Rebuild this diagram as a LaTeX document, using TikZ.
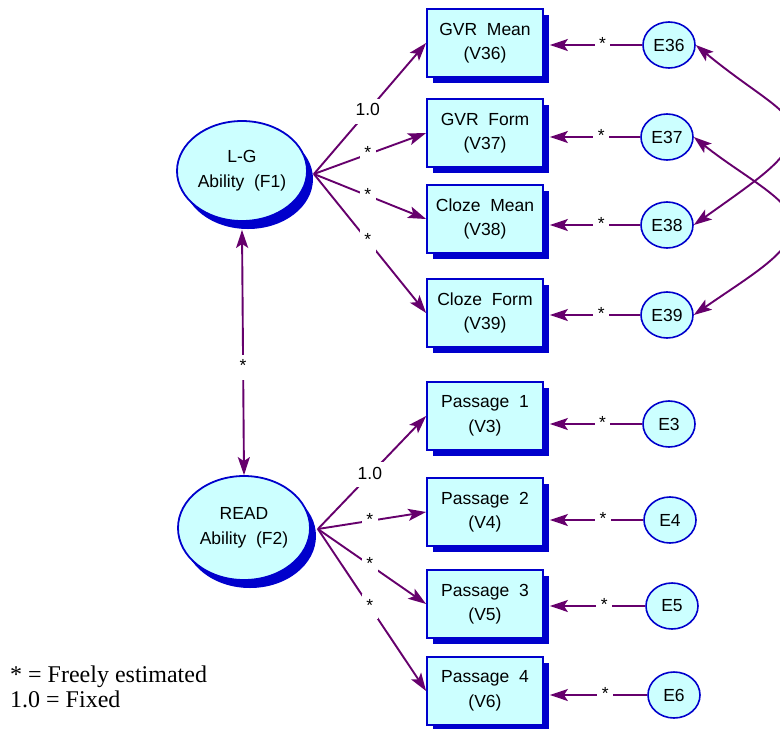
\documentclass[tikz,border=0pt]{standalone}
\usepackage{fontspec}
\setmainfont{Liberation Serif}
\setsansfont{Liberation Sans}
\usetikzlibrary{arrows.meta,shapes.geometric,shadows}
\definecolor{pathpurple}{RGB}{102,0,108}
\definecolor{boxfill}{RGB}{204,255,255}
\definecolor{edgeblue}{RGB}{0,0,204}

\tikzset{
  tip/.tip={Stealth[length=18pt, width=12pt, inset=4pt]},
  measured/.style={draw=edgeblue, fill=boxfill, line width=1.8pt,
    rectangle, minimum width=116pt, minimum height=68pt, inner sep=0pt,
    align=center, font=\sffamily\fontsize{17.5}{24.5}\selectfont,
    general shadow={shadow xshift=6pt, shadow yshift=-6pt, fill=edgeblue, draw=none}},
  factor/.style={draw=edgeblue, fill=boxfill, line width=1.8pt,
    ellipse, inner sep=0pt, align=center,
    font=\sffamily\fontsize{17.5}{25}\selectfont,
    general shadow={shadow xshift=6pt, shadow yshift=-8pt, fill=edgeblue, draw=none}},
  errterm/.style={draw=edgeblue, fill=boxfill, line width=1.6pt,
    ellipse, minimum width=52pt, minimum height=46pt, inner sep=0pt,
    font=\sffamily\fontsize{17.5}{21}\selectfont},
  path/.style={draw=pathpurple, line width=1.9pt, -tip},
  twoway/.style={draw=pathpurple, line width=1.9pt, tip-tip},
  est/.style={fill=white, inner xsep=4.5pt, inner ysep=4pt,
    text height=13pt, text depth=4pt,
    font=\sffamily\fontsize{17.5}{21}\selectfont},
  legend/.style={anchor=base west, inner sep=0pt,
    font=\rmfamily\fontsize{24}{25}\selectfont}
}

\begin{document}
\begin{tikzpicture}[x=1pt, y=-1pt]
\useasboundingbox (0,0) rectangle (780,729);
\clip (0,0) rectangle (780,729);

% latent factors
\node[factor, minimum width=130pt, minimum height=100pt] (F1) at (242,171) {L-G\\Ability\ \ (F1)};
\node[factor, minimum width=132pt, minimum height=104pt] (F2) at (244,528) {READ\\Ability\ \ (F2)};

% measured variables
\node[measured] (V36) at (485,43)  {GVR\ \ Mean\\(V36)};
\node[measured] (V37) at (485,133) {GVR\ \ Form\\(V37)};
\node[measured] (V38) at (485,219) {Cloze\ \ Mean\\(V38)};
\node[measured] (V39) at (485,313) {Cloze\ \ Form\\(V39)};
\node[measured] (V3)  at (485,416) {Passage\ \ 1\\(V3)};
\node[measured] (V4)  at (485,512) {Passage\ \ 2\\(V4)};
\node[measured] (V5)  at (485,604) {Passage\ \ 3\\(V5)};
\node[measured] (V6)  at (485,691) {Passage\ \ 4\\(V6)};

% error terms
\node[errterm] (E36) at (669,45)  {E36};
\node[errterm] (E37) at (667,137) {E37};
\node[errterm] (E38) at (667,225) {E38};
\node[errterm] (E39) at (667,315) {E39};
\node[errterm] (E3)  at (669,424) {E3};
\node[errterm] (E4)  at (670,520) {E4};
\node[errterm] (E5)  at (672,606) {E5};
\node[errterm] (E6)  at (674,695) {E6};

% where the loadings leave the factors
\coordinate (F1out) at ([xshift=6pt, yshift=-3pt]F1.east);
\coordinate (F2out) at ([xshift=7pt, yshift=-1pt]F2.east);

% factor loadings
\draw[path] (F1out) -- node[est, pos=0.48] {1.0} (V36.west);
\draw[path] (F1out) -- node[est, pos=0.48] {*} (V37.west);
\draw[path] (F1out) -- node[est, pos=0.48] {*} (V38.west);
\draw[path] (F1out) -- node[est, pos=0.48] {*} (V39.west);
\draw[path] (F2out) -- node[est, pos=0.48] {1.0} (V3.west);
\draw[path] (F2out) -- node[est, pos=0.48] {*} (V4.west);
\draw[path] (F2out) -- node[est, pos=0.48] {*} (V5.west);
\draw[path] (F2out) -- node[est, pos=0.48] {*} (V6.west);

% factor covariance
\draw[twoway] ([yshift=-8pt]F1.south) -- node[est, pos=0.56] {*} (F2.north);

% error paths
\foreach \v/\e in {V36/E36, V37/E37, V38/E38, V39/E39, V3/E3, V4/E4, V5/E5, V6/E6}
  \draw[path] (\e.west) -- node[est, pos=0.43] {*} ([xshift=6pt]\v.east |- \e.west);

% correlated errors
\draw[twoway] (E36.east) .. controls (760,98) and (797,112) .. (792,136)
  .. controls (787,160) and (760,178) .. (E38.east);
\draw[twoway] (E37.east) .. controls (745,178) and (797,202) .. (793,228)
  .. controls (789,254) and (750,276) .. (E39.east);

% legend
\node[legend] (key1) at (10,682) {* = Freely estimated};
\node[legend] (key2) at (10,707) {1.0 = Fixed};
\end{tikzpicture}
\end{document}
